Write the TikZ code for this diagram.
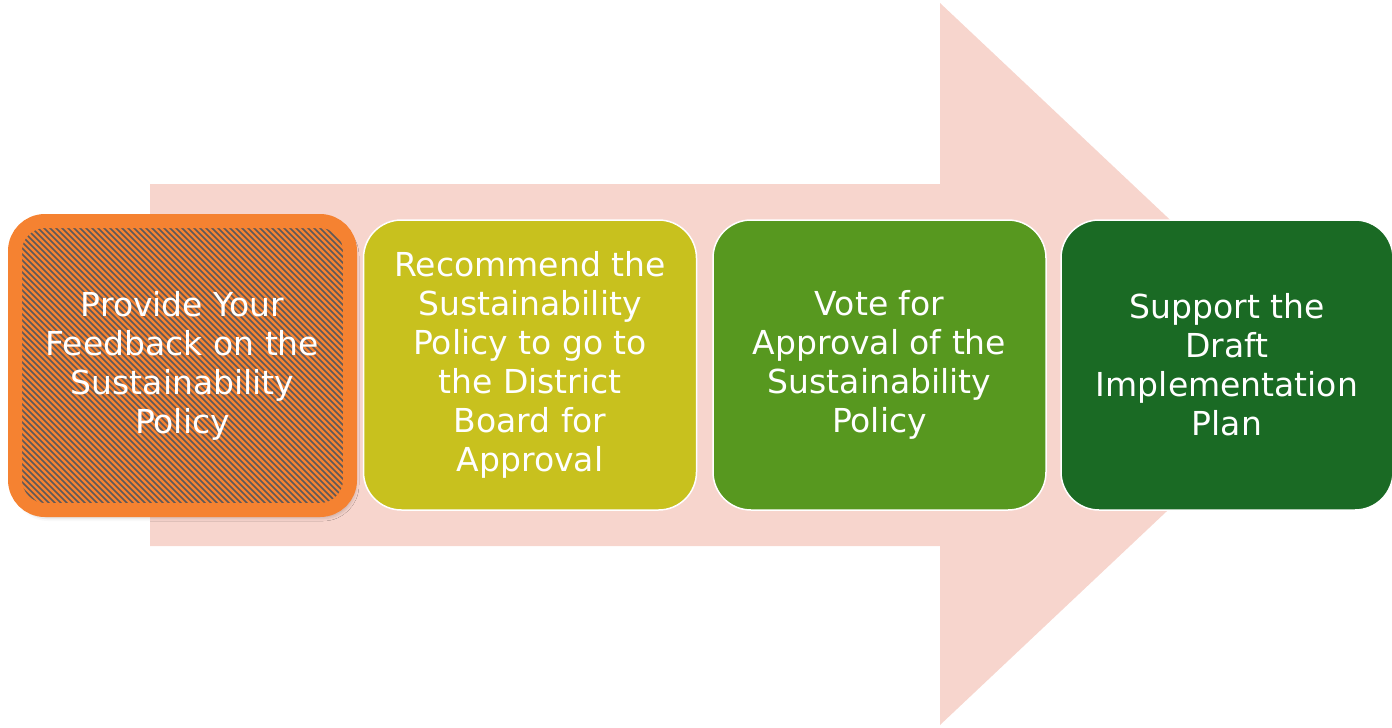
\documentclass[tikz,border=0pt]{standalone}
\usepackage{fontspec}
\setmainfont{DejaVu Sans}
\usetikzlibrary{shadows.blur}
\definecolor{arrowpink}{HTML}{F7D5CD}
\definecolor{orangeA}{HTML}{F58231}
\definecolor{stripe}{HTML}{5E5858}
\definecolor{olive}{HTML}{C8C11E}
\definecolor{midgreen}{HTML}{57981F}
\definecolor{darkgreen}{HTML}{1A6A24}
\tikzset{
  boxtext/.style={text=white, inner sep=0pt, align=center, font=\fontsize{33}{39}\selectfont},
  stepbox/.style={boxtext, rounded corners=38pt, draw=white, line width=1.5pt,
    minimum width=333pt, minimum height=290pt},
  firstbox/.style={boxtext, rounded corners=30pt, draw=orangeA, line width=14pt,
    minimum width=335pt, minimum height=289pt},
  stripeline/.style={draw=stripe, line width=1.6pt},
}
\begin{document}
\begin{tikzpicture}[x=1pt,y=-1pt]
\useasboundingbox (0,0) rectangle (1392,728);
% big background arrow
\fill[arrowpink] (150,184) -- (940,184) -- (940,3) -- (1323,364) -- (940,725) -- (940,546) -- (150,546) -- cycle;
% first box background with shadow and stripes
\fill[orangeA, rounded corners=30pt, blur shadow={shadow xshift=3pt, shadow yshift=-5pt, shadow blur radius=6pt, shadow opacity=40}]
  (15,221) rectangle (350,510);
\begin{scope}
  \clip[rounded corners=24pt] (21,227) rectangle (344,504);
  \foreach \x in {-300,-294,...,350} {
    \draw[stripeline] (\x,220) -- (\x+300,520);
  }
\end{scope}
% step boxes
\node[firstbox] (s1) at (182.5,365.5) {Provide Your\\Feedback on the\\Sustainability\\Policy};
\node[stepbox, fill=olive] (s2) at (530,365) {Recommend the\\Sustainability\\Policy to go to\\the District\\Board for\\Approval};
\node[stepbox, fill=midgreen] (s3) at (879.5,365) {Vote for\\Approval of the\\Sustainability\\Policy};
\node[stepbox, fill=darkgreen, minimum width=332pt] (s4) at (1227,365) {Support the\\Draft\\Implementation\\Plan};
\end{tikzpicture}
\end{document}
